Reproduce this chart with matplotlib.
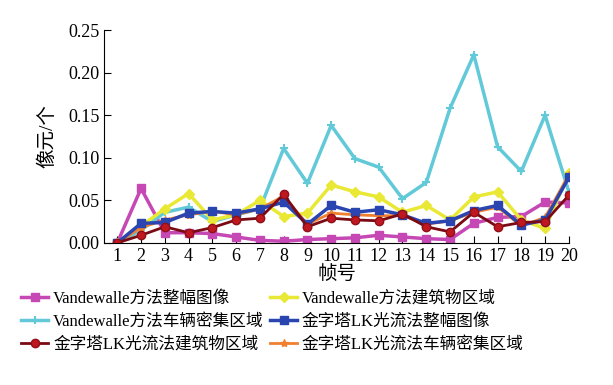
import numpy as np
import matplotlib
matplotlib.use('Agg')
import matplotlib.pyplot as plt

plt.rcParams['font.family'] = ['Liberation Serif', 'Noto Sans CJK SC']

frames = np.arange(1, 21)

vw_whole = [0.000, 0.064, 0.012, 0.012, 0.011, 0.007, 0.003, 0.002, 0.004, 0.005,
            0.006, 0.009, 0.007, 0.005, 0.004, 0.023, 0.030, 0.031, 0.048, 0.047]
vw_building = [0.000, 0.020, 0.040, 0.058, 0.027, 0.033, 0.050, 0.031, 0.035, 0.068,
               0.060, 0.054, 0.036, 0.044, 0.027, 0.054, 0.060, 0.027, 0.017, 0.082]
vw_vehicle = [0.000, 0.015, 0.036, 0.042, 0.025, 0.033, 0.040, 0.111, 0.070, 0.138,
              0.099, 0.089, 0.052, 0.071, 0.158, 0.221, 0.113, 0.084, 0.150, 0.060]
lk_whole = [0.000, 0.023, 0.024, 0.035, 0.037, 0.035, 0.040, 0.048, 0.022, 0.044,
            0.036, 0.039, 0.033, 0.023, 0.026, 0.038, 0.044, 0.021, 0.027, 0.077]
lk_building = [0.000, 0.009, 0.019, 0.012, 0.018, 0.027, 0.029, 0.057, 0.019, 0.029,
               0.027, 0.026, 0.034, 0.019, 0.013, 0.036, 0.019, 0.024, 0.025, 0.056]
lk_vehicle = [0.000, 0.018, 0.027, 0.033, 0.037, 0.033, 0.040, 0.055, 0.022, 0.035,
              0.033, 0.032, 0.032, 0.022, 0.026, 0.036, 0.042, 0.020, 0.030, 0.080]

labels = ['Vandewalle方法整幅图像', 'Vandewalle方法建筑物区域',
          'Vandewalle方法车辆密集区域', '金字塔LK光流法整幅图像',
          '金字塔LK光流法建筑物区域', '金字塔LK光流法车辆密集区域']
yticks = [0.00, 0.05, 0.10, 0.15, 0.20, 0.25]

fig = plt.figure(figsize=(6.13, 3.85), dpi=100)
ax = fig.add_axes([0.170, 0.369, 0.758, 0.553])

lines = {}
lines['vw_whole'], = ax.plot(frames, vw_whole, color='#c548b5', lw=2.5, marker='s', ms=6, label=labels[0])
lines['vw_vehicle'], = ax.plot(frames, vw_vehicle, color='#62c9d8', lw=2.5, marker='+', ms=6, mew=1.5, label=labels[2])
lines['vw_building'], = ax.plot(frames, vw_building, color='#e9e834', lw=2.5, marker='D', ms=5, label=labels[1])
lines['lk_vehicle'], = ax.plot(frames, lk_vehicle, color='#f08030', lw=2.0, marker='*', ms=6, label=labels[5])
lines['lk_whole'], = ax.plot(frames, lk_whole, color='#2a44b0', lw=2.5, marker='s', ms=6, label=labels[3])
lines['lk_building'], = ax.plot(frames, lk_building, color='#7a0a14', lw=2.0, marker='o', ms=6,
                                mfc='#c01820', mec='#901018', label=labels[4])

ax.set_xlim(0.45, 20)
ax.set_ylim(0, 0.25)
ax.set_xticks(frames)
ax.set_yticks(yticks)
ax.set_yticklabels(['%.2f' % v for v in yticks])
ax.tick_params(direction='in', labelsize=13, length=5)
ax.spines['top'].set_visible(False)
ax.spines['right'].set_visible(False)
ax.set_xlabel('帧号', fontsize=14, labelpad=0)
ax.set_ylabel('像元/个', fontsize=14, labelpad=8)

order = ['vw_whole', 'vw_vehicle', 'lk_building', 'vw_building', 'lk_whole', 'lk_vehicle']
fig.legend([lines[k] for k in order], [lines[k].get_label() for k in order],
           ncol=2, loc='upper left', bbox_to_anchor=(0.035, 0.244), fontsize=12,
           frameon=False, handlelength=1.6, handletextpad=0.3, columnspacing=0.4,
           labelspacing=0.4, borderpad=0.0, borderaxespad=0.0)

fig.savefig('out.png', dpi=100)
